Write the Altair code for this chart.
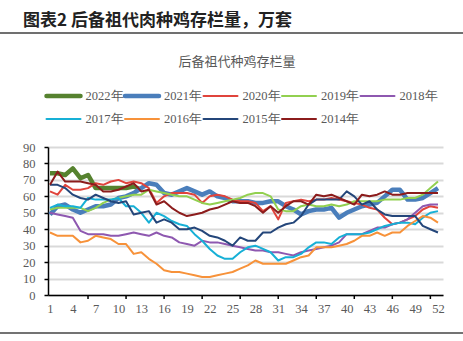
import altair as alt
import pandas as pd

weeks = list(range(1, 53))
years = ["2022年", "2021年", "2020年", "2019年", "2018年", "2017年", "2016年", "2015年", "2014年"]
colors = ["#56822f", "#4a7ebb", "#e0443c", "#92d050", "#8e58b0", "#17b0d6", "#f7923a", "#24467a", "#8c1c1c"]
widths = [4.5, 4.5, 2, 2, 2, 2, 2, 2, 2]

v2022 = [74, 74, 73, 77, 71, 73, 65, 65, 65, 65, 65, 66, 64]
v2021 = [49, 54, 55, 52, 50, 52, 54, 54, 55, 59, 60, 62, 65, 68, 67, 62, 61, 63, 65, 63,
         61, 63, 60, 59, 57, 57, 57, 56, 56, 57, 57, 54, 52, 49, 51, 52, 52, 53, 47, 50,
         52, 54, 55, 56, 60, 64, 64, 58, 58, 59, 62, 65]
v2020 = [63, 61, 67, 64, 64, 65, 68, 67, 69, 70, 68, 69, 68, 65, 56, 60, 62, 62, 62, 61,
         56, 60, 61, 60, 58, 57, 57, 56, 51, 54, 46, 56, 57, 58, 57, 58, 58, 59, 58, 57,
         56, 55, 53, 52, 47, 43, 44, 46, 48, 52, 54, 53]
v2019 = [52, 53, 53, 53, 53, 51, 53, 56, 58, 59, 60, 61, 61, 64, 63, 62, 61, 60, 60, 58,
         56, 55, 56, 57, 58, 59, 61, 62, 62, 60, 52, 51, 51, 54, 55, 54, 54, 55, 54, 55,
         57, 57, 57, 57, 58, 58, 58, 59, 59, 61, 65, 69]
v2018 = [50, 49, 48, 47, 39, 37, 37, 37, 36, 36, 37, 38, 37, 36, 38, 36, 35, 32, 31, 30,
         33, 32, 32, 31, 30, 29, 28, 27, 27, 26, 26, 25, 24, 26, 27, 28, 29, 30, 32, 37,
         37, 37, 39, 41, 41, 43, 44, 46, 50, 54, 55, 55]
v2017 = [53, 55, 54, 54, 53, 59, 58, 58, 58, 59, 54, 54, 50, 44, 50, 48, 45, 43, 42, 37,
         33, 28, 24, 22, 22, 26, 29, 30, 28, 26, 21, 23, 23, 25, 29, 32, 32, 31, 35, 37,
         37, 37, 38, 40, 42, 43, 44, 44, 43, 47, 50, 51]
v2016 = [38, 36, 36, 36, 32, 33, 36, 35, 34, 31, 31, 25, 26, 22, 19, 15, 14, 14, 13, 12,
         11, 11, 12, 13, 14, 16, 18, 21, 19, 19, 19, 19, 21, 23, 24, 29, 29, 29, 30, 31,
         33, 36, 36, 38, 36, 38, 38, 42, 45, 48, 47, 44]
v2015 = [67, 67, 65, 61, 59, 58, 61, 59, 57, 56, 57, 49, 50, 51, 44, 46, 44, 40, 40, 41,
         39, 36, 35, 33, 30, 35, 33, 33, 38, 38, 41, 43, 44, 48, 55, 58, 58, 58, 58, 63,
         60, 55, 57, 52, 49, 48, 48, 48, 48, 42, 40, 38]
v2014 = [67, 75, 69, 69, 69, 68, 67, 63, 63, 64, 66, 68, 63, 64, 55, 57, 53, 50, 48, 49,
         50, 52, 53, 55, 57, 56, 56, 54, 50, 54, 50, 54, 57, 57, 55, 61, 60, 61, 59, 57,
         55, 61, 60, 61, 63, 61, 61, 62, 62, 62, 62, 62]

x_labels = list(range(1, 53, 3))
x_ticks = list(range(6, 52, 5))
y_labels = list(range(0, 91, 10))

chart_title = "图表2  后备祖代肉种鸡存栏量，万套"
inner_title = "后备祖代种鸡存栏量"

series = [v2022, v2021, v2020, v2019, v2018, v2017, v2016, v2015, v2014]
rows = []
for yi, (yr, vals) in enumerate(zip(years, series)):
    for w, v in zip(weeks, vals):
        rows.append({"week": w, "year": yr, "value": v, "k": yi})
df = pd.DataFrame(rows)

W, H = 395, 148
x_scale = alt.Scale(domain=[0.74, 52.66], nice=False, zero=False)
y_scale = alt.Scale(domain=[0, 90], nice=False)
color_scale = alt.Scale(domain=years, range=colors)
width_scale = alt.Scale(type="ordinal", domain=years, range=widths)

lines = alt.Chart(df).mark_line(strokeJoin="round").encode(
    x=alt.X("week:Q", scale=x_scale, title=None,
            axis=alt.Axis(values=x_labels, ticks=False, grid=False, labelAngle=0,
                          domainColor="#000000", domainWidth=1.5, labelPadding=7,
                          labelFont="Liberation Serif", labelFontSize=12.5,
                          labelColor="#595959", labelFlush=False)),
    y=alt.Y("value:Q", scale=y_scale, title=None,
            axis=alt.Axis(values=y_labels, grid=True, gridColor="#d9d9d9", gridWidth=2,
                          domainColor="#000000", domainWidth=1.5, tickColor="#000000",
                          tickSize=4, tickWidth=1.5, labelPadding=9,
                          labelFont="Liberation Serif", labelFontSize=12.5,
                          labelColor="#595959")),
    color=alt.Color("year:N", scale=color_scale, legend=None),
    strokeWidth=alt.StrokeWidth("year:N", scale=width_scale, legend=None),
    detail="k:O",
)

tick_df = pd.DataFrame({"t": x_ticks})
ticks = alt.Chart(tick_df).mark_rule(color="#000000", strokeWidth=1.5).encode(
    x=alt.X("t:Q", scale=x_scale, axis=None),
    y=alt.value(H), y2=alt.value(H + 4),
)

# legend built from the series names (5 per row)
leg = pd.DataFrame({"year": years})
leg["col"] = [i % 5 for i in range(len(years))]
leg["row"] = [i // 5 for i in range(len(years))]
PITCH = 78.5
leg["start"] = leg["col"] + 1.5 / PITCH
leg["end"] = leg["col"] + 35.5 / PITCH
leg["lab"] = leg["col"] + 40.5 / PITCH
leg_x = alt.Scale(domain=[0, 5], range=[-3, -3 + 5 * PITCH], nice=False, zero=False)
leg_y = alt.Scale(domain=[0, 1], range=[-51, -28], nice=False, zero=False)

leg_lines = alt.Chart(leg).mark_rule(strokeCap="round").encode(
    x=alt.X("start:Q", scale=leg_x, axis=None),
    x2="end:Q",
    y=alt.Y("row:Q", scale=leg_y, axis=None),
    color=alt.Color("year:N", scale=color_scale, legend=None),
    strokeWidth=alt.StrokeWidth("year:N", scale=width_scale, legend=None),
)
leg_text = alt.Chart(leg).mark_text(
    align="left", baseline="middle", font="Liberation Serif", fontSize=12.5,
    color="#595959",
).encode(
    x=alt.X("lab:Q", scale=leg_x, axis=None),
    y=alt.Y("row:Q", scale=leg_y, axis=None),
    text="year:N",
)

one = pd.DataFrame({"t": [chart_title], "s": [inner_title]})
title_mark = alt.Chart(one).mark_text(
    align="left", baseline="middle", font="Noto Sans CJK SC", fontWeight="bold",
    fontSize=17, color="#222222",
).encode(text="t:N", x=alt.value(-25), y=alt.value(-126))

inner_mark = alt.Chart(one).mark_text(
    align="center", baseline="middle", font="Noto Sans CJK SC",
    fontSize=13, color="#595959",
).encode(text="s:N", x=alt.value(189), y=alt.value(-85))

top_rule = alt.Chart(one).mark_rule(color="#707070", strokeWidth=2).encode(
    x=alt.value(-48), x2=alt.value(415), y=alt.value(-114))
bottom_rule = alt.Chart(one).mark_rule(color="#444444", strokeWidth=1.5).encode(
    x=alt.value(-48), x2=alt.value(415), y=alt.value(186))

chart = alt.layer(
    lines, ticks, leg_lines, leg_text, title_mark, inner_mark, top_rule, bottom_rule
).resolve_scale(x="independent", y="independent").properties(
    width=W, height=H,
    autosize=alt.AutoSizeParams(type="none"),
    padding={"left": 48, "top": 147, "right": 20, "bottom": 46},
    background="#ffffff",
).configure_view(stroke=None)

chart.save("out.html", embed_options={"renderer": "svg", "actions": False})
